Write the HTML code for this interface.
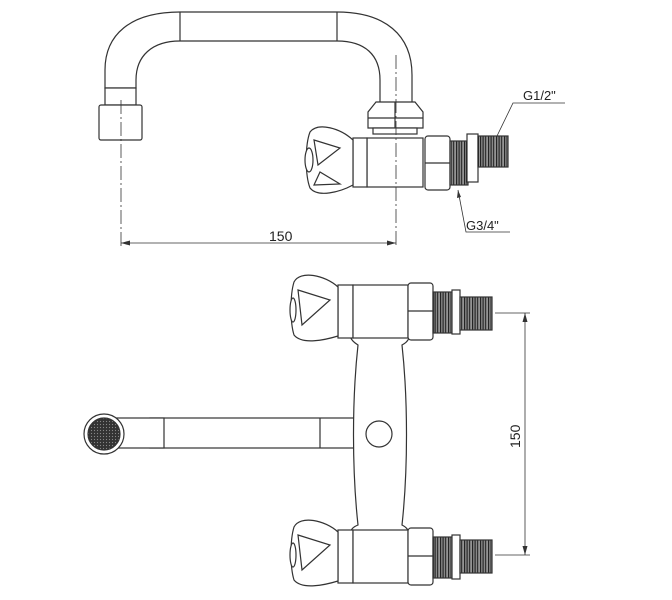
<!DOCTYPE html>
<html><head><meta charset="utf-8"><style>
html,body{margin:0;padding:0;background:#fff;width:672px;height:600px;overflow:hidden}
svg{display:block}
text{font-family:"Liberation Sans",sans-serif;fill:#222}
</style></head><body>
<svg width="672" height="600" viewBox="0 0 672 600" xmlns="http://www.w3.org/2000/svg">
<defs>
<pattern id="th" width="1.6" height="4" patternUnits="userSpaceOnUse">
<rect width="1.6" height="4" fill="#fff"/><rect width="1.1" height="4" fill="#1a1a1a"/>
</pattern>
<pattern id="mesh" width="3" height="3" patternUnits="userSpaceOnUse">
<rect width="3" height="3" fill="#333"/><circle cx="1.5" cy="1.5" r="0.6" fill="#888"/>
</pattern>
</defs>
<g fill="#fff" stroke="#333" stroke-width="1.2">
<path d="M105,88 L105,70 C105,35 130,12 180,12 L337,12 C385,12 412,35 412,75 L412,105 L380,105 L380,80 C380,55 365,41 337,41 L180,41 C152,41 136,56 136,80 L136,88 Z"/>
<line x1="180" y1="12" x2="180" y2="41"/><line x1="337" y1="12" x2="337" y2="41"/>
<rect x="105" y="88" width="31" height="17"/>
<rect x="99" y="105" width="43" height="35" rx="2"/>
<path d="M368,128 L368,112 L376,102 L415,102 L423,112 L423,128 Z"/>
<line x1="395" y1="102" x2="395" y2="128"/><line x1="368" y1="118" x2="423" y2="118"/>
<rect x="373" y="128" width="44" height="6"/>
<rect x="367" y="138" width="56" height="49"/>
<rect x="353" y="138" width="14" height="49"/>
<path d="M353,140 C340,128 318,122 310,132 C305,145 305,175 310,188 C318,198 340,192 353,185 Z"/>
<path d="M314,140 L340,148 L318,165 Z" /><path d="M314,185 L340,184 L320,172 Z"/>
<ellipse cx="309" cy="160" rx="4" ry="12"/>
<rect x="425" y="136" width="25" height="54" rx="3"/>
<line x1="425" y1="163" x2="450" y2="163"/>
<rect x="450" y="141" width="18" height="44" fill="url(#th)"/>
<rect x="467" y="134" width="11" height="48"/>
<rect x="478" y="136" width="30" height="31" fill="url(#th)"/>
<rect x="150" y="418" width="210" height="30"/>
<line x1="163" y1="418" x2="163" y2="448"/><line x1="320" y1="418" x2="320" y2="448"/>
<rect x="104" y="418" width="60" height="30"/>
<circle cx="104" cy="434" r="20"/>
<circle cx="104" cy="434" r="16" fill="url(#mesh)"/>
<path d="M358,345 C350,340 348,335 353,330 L408,330 C412,336 408,342 402,345 C408,400 408,470 402,525 C408,528 412,534 408,540 L353,540 C348,534 350,528 358,525 C352,470 352,400 358,345 Z"/>
<circle cx="379" cy="434" r="13"/>
</g>
<g fill="#fff" stroke="#333" stroke-width="1.2">
<rect x="338" y="285" width="15" height="53"/>
<rect x="353" y="285" width="55" height="53"/>
<path d="M338,287 C325,275 300,270 294,282 C290,295 290,322 294,335 C302,345 325,340 338,336 Z"/>
<path d="M298,290 L330,300 L302,325 Z"/>
<ellipse cx="293" cy="310" rx="3" ry="12"/>
<rect x="408" y="283" width="25" height="57" rx="3"/>
<line x1="408" y1="311" x2="433" y2="311"/>
<rect x="433" y="292" width="20" height="41" fill="url(#th)"/>
<rect x="452" y="290" width="8" height="44"/>
<rect x="460" y="297" width="32" height="33" fill="url(#th)"/>
</g>
<g fill="#fff" stroke="#333" stroke-width="1.2">
<rect x="338" y="530" width="15" height="53"/>
<rect x="353" y="530" width="55" height="53"/>
<path d="M338,532 C325,520 300,515 294,527 C290,540 290,567 294,580 C302,590 325,585 338,581 Z"/>
<path d="M298,535 L330,545 L302,570 Z"/>
<ellipse cx="293" cy="555" rx="3" ry="12"/>
<rect x="408" y="528" width="25" height="57" rx="3"/>
<line x1="408" y1="556" x2="433" y2="556"/>
<rect x="433" y="537" width="20" height="41" fill="url(#th)"/>
<rect x="452" y="535" width="8" height="44"/>
<rect x="460" y="540" width="32" height="33" fill="url(#th)"/>
</g>
<g stroke="#333" stroke-width="0.8" fill="none">
<line x1="121" y1="100" x2="121" y2="247" stroke-dasharray="14,3,2,3"/>
<line x1="396" y1="55" x2="396" y2="247" stroke-dasharray="14,3,2,3"/>
<line x1="121" y1="243" x2="396" y2="243"/>
<line x1="495" y1="313" x2="530" y2="313"/>
<line x1="495" y1="555" x2="530" y2="555"/>
<line x1="525" y1="313" x2="525" y2="555"/>
<polyline points="497,136 513,103 565,103"/>
<polyline points="458,190 466,232 510,232"/>
</g>
<g fill="#333">
<path d="M121,243 l9,-2.5 v5 z"/><path d="M396,243 l-9,-2.5 v5 z"/>
<path d="M525,313 l-2.5,9 h5 z"/><path d="M525,555 l-2.5,-9 h5 z"/>
<path d="M458,190 l-1,8 l4,-1 z"/>
</g>
<text x="269" y="241" font-size="14">150</text>
<text x="523" y="100" font-size="13">G1/2"</text>
<text x="466" y="230" font-size="13">G3/4"</text>
<text x="0" y="0" font-size="14" transform="translate(520,448) rotate(-90)">150</text>
</svg>
</body></html>
